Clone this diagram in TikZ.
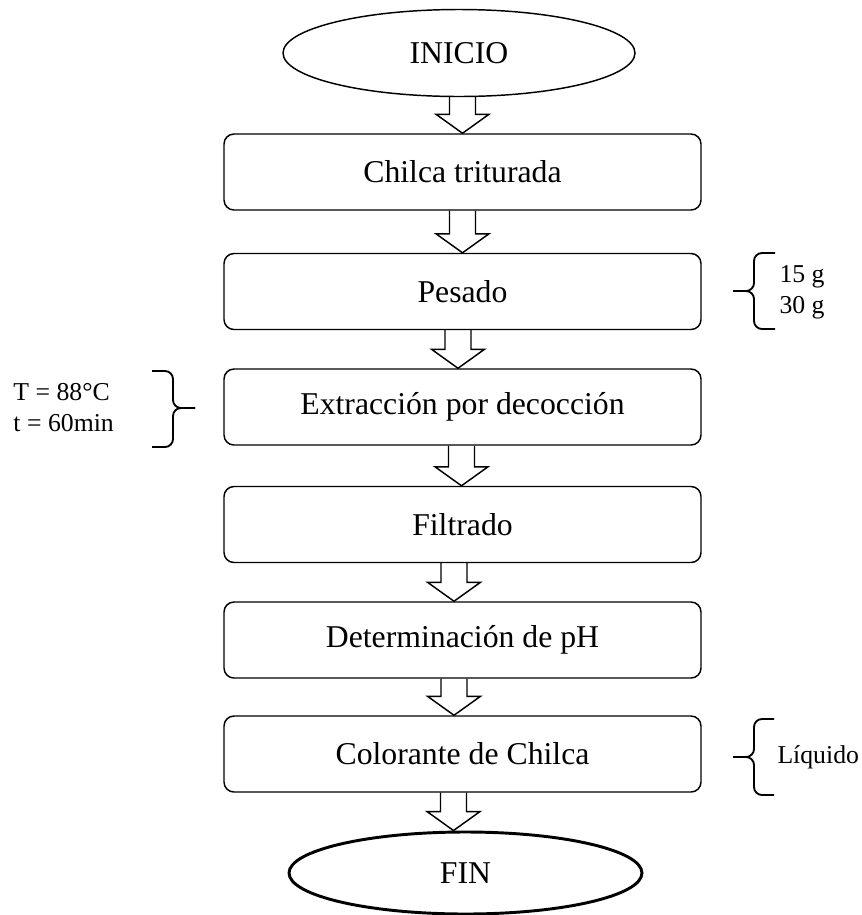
\documentclass[tikz,border=0pt]{standalone}
\usepackage{fontspec}
\setmainfont{Liberation Serif}
\usetikzlibrary{shapes.geometric,calc}

\tikzset{every picture/.style={line width=0.75pt}}
\tikzset{
  flowbox/.style={draw, rounded corners=7.5pt, minimum width=357.75pt, minimum height=57pt, inner sep=0pt, line width=1.1pt, font=\fontsize{23.8}{28}\selectfont},
  terminal/.style={draw, ellipse, inner sep=0pt, line width=1.1pt, font=\fontsize{23.8}{28}\selectfont},
  sidenote/.style={anchor=west, inner sep=0pt, align=left, font=\fontsize{19.3}{23.2}\selectfont},
  hollowarrow/.style={line width=1.1pt, line join=miter},
  bracket/.style={line width=1.4pt, rounded corners=6pt},
}
% hollow block arrow: [x offset]{from}{to}
\newcommand{\blockarrow}[3][0]{%
  \draw[hollowarrow] ($(#3.north |- #2.south)+({#1-13},0)$) -- ($(#3.north)+({#1-13},-19)$) -- ($(#3.north)+({#1-26.5},-19)$) -- ($(#3.north)+(#1,0)$) -- ($(#3.north)+({#1+26.5},-19)$) -- ($(#3.north)+({#1+13},-19)$) -- ($(#3.north |- #2.south)+({#1+13},0)$);}

\begin{document}
\begin{tikzpicture}[x=0.75pt,y=0.75pt,yscale=-1,xscale=1]
\useasboundingbox (0,0) rectangle (862,915);

%Shape: Ellipse [id:inicio]
\node[terminal, minimum width=264pt, minimum height=65.25pt] (inicio) at (459,53) {INICIO};
%Shape: Rectangle [id:chilca]
\node[flowbox] (chilca) at (462.5,172) {Chilca triturada};
%Shape: Rectangle [id:pesado]
\node[flowbox] (pesado) at (462.5,291.5) {Pesado};
%Shape: Rectangle [id:extraccion]
\node[flowbox] (extraccion) at (462.5,407) {Extracción por decocción};
%Shape: Rectangle [id:filtrado]
\node[flowbox] (filtrado) at (462.5,524.5) {Filtrado};
%Shape: Rectangle [id:ph]
\node[flowbox] (ph) at (462.5,640) {Determinación de pH};
%Shape: Rectangle [id:colorante]
\node[flowbox] (colorante) at (462.5,754) {Colorante de Chilca};
%Shape: Ellipse [id:fin]
\node[terminal, line width=2.2pt, minimum width=264.75pt, minimum height=61.5pt] (fin) at (465.5,873) {FIN};

%Down Arrows
\blockarrow{inicio}{chilca}
\blockarrow{chilca}{pesado}
\blockarrow[-4.5]{pesado}{extraccion}
\blockarrow[-1]{extraccion}{filtrado}
\blockarrow[-8.5]{filtrado}{ph}
\blockarrow[-8.5]{ph}{colorante}
\blockarrow[-12]{colorante}{fin}

%Shape: Brace [id:pesado brace]
\draw[bracket] (775,253) -- (754,253) -- (754,291) -- (733,291);
\draw[bracket] (733,291) -- (754,291) -- (754,329) -- (775,329);
%Shape: Brace [id:extraccion brace]
\draw[bracket] (152,371) -- (173,371) -- (173,408) -- (195,408);
\draw[bracket] (195,408) -- (173,408) -- (173,447) -- (152,447);
%Shape: Brace [id:colorante brace]
\draw[bracket] (774,719) -- (754,719) -- (754,757) -- (733,757);
\draw[bracket] (733,757) -- (754,757) -- (754,795) -- (774,795);

% Text Node
\node[sidenote] (masas) at (779,292.5) {15 g\\30 g};
% Text Node
\node[sidenote] (condiciones) at (13,408) {T = 88°C\\t = 60min};
% Text Node
\node[sidenote] (estado) at (777,757) {Líquido};

\end{tikzpicture}
\end{document}
